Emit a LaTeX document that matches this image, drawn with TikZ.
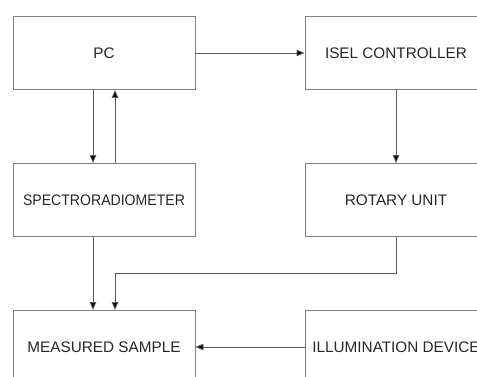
\documentclass[tikz,border=0pt]{standalone}
\usepackage{fontspec}
\usepackage{graphicx}
\setmainfont{Liberation Sans}
\usetikzlibrary{arrows.meta}
\begin{document}
\begin{tikzpicture}[x=1pt,y=-1pt,
  blk/.style={draw=black!50, line width=0.9pt, rectangle, minimum width=182pt, minimum height=73pt, inner sep=0pt, font=\fontsize{15.3}{17}\selectfont, text=black!85},
  conn/.style={draw=black!65, line width=0.9pt, -{Triangle[length=8pt,width=6.5pt,fill=black]}}]
\useasboundingbox (0,0) rectangle (477,376);
\clip (0,0) rectangle (477,376);
\node[blk] (pc)   at (104,53)  {PC};
\node[blk] (isel) at (396,53)  {ISEL CONTROLLER};
\node[blk] (spec) at (104,200) {\scalebox{0.92}[1]{SPECTRORADIOMETER}};
\node[blk] (rot)  at (396,200) {ROTARY UNIT};
\node[blk] (meas) at (104,347) {MEASURED SAMPLE};
\node[blk] (ill)  at (396,347) {ILLUMINATION DEVICE};
\draw[conn] (pc.east) -- (isel.west);
\draw[conn] ([xshift=-11pt]pc.south) -- ([xshift=-11pt]spec.north);
\draw[conn] ([xshift=11pt]spec.north) -- ([xshift=11pt]pc.south);
\draw[conn] (isel.south) -- (rot.north);
\draw[conn] ([xshift=-11pt]spec.south) -- ([xshift=-11pt]meas.north);
\draw[conn] (rot.south) -- ++(0,36) -| ([xshift=11pt]meas.north);
\draw[conn] (ill.west) -- (meas.east);
\end{tikzpicture}
\end{document}
